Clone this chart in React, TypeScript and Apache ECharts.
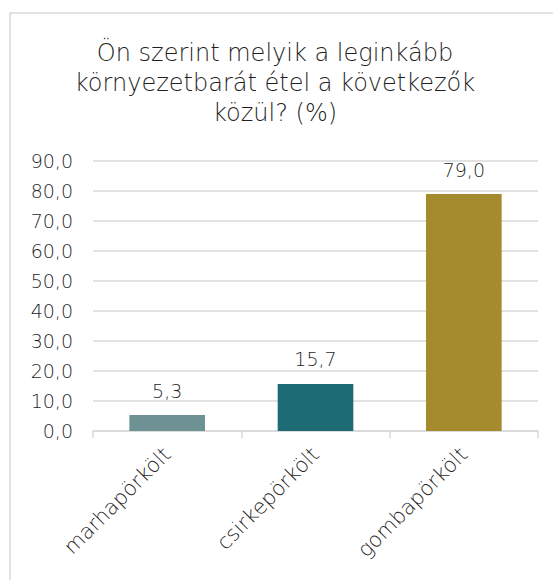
import React, { useEffect, useRef } from "react";
import * as echarts from "echarts";

const categories = ["marhapörkölt", "csirkepörkölt", "gombapörkölt"];
const values = [5.3, 15.7, 79.0];
const barColors = ["#6E9193", "#1C6B75", "#A68A2E"];
const titleText = "Ön szerint melyik a leginkább\nkörnyezetbarát étel a következők\nközül? (%)";

const FONT = "DejaVu Sans";
const TXT = "#1f1f1f";

export default function App() {
  const ref = useRef<HTMLDivElement>(null);
  useEffect(() => {
    const chart = echarts.init(ref.current!, null, { renderer: "svg" });
    chart.setOption({
      animation: false,
      backgroundColor: "#ffffff",
      graphic: [
        {
          type: "rect",
          shape: { x: 10, y: 13, width: 600, height: 600 },
          style: { fill: "none", stroke: "#d9d9d9", lineWidth: 1.5 },
          silent: true,
        },
      ],
      title: {
        text: titleText,
        left: 270,
        top: 33,
        textAlign: "center",
        textStyle: {
          fontFamily: FONT,
          fontWeight: 300,
          fontSize: 24,
          lineHeight: 30,
          color: TXT,
        },
      },
      grid: { left: 93, right: 15, top: 161, bottom: 149 },
      xAxis: {
        type: "category",
        data: categories,
        axisLine: { lineStyle: { color: "#d9d9d9", width: 1.5 } },
        axisTick: { show: true, length: 7, lineStyle: { color: "#d9d9d9", width: 1.5 } },
        axisLabel: {
          rotate: 45,
          fontFamily: FONT,
          fontWeight: 300,
          fontSize: 21,
          color: TXT,
          margin: 20,
        },
      },
      yAxis: {
        type: "value",
        min: 0,
        max: 90,
        interval: 10,
        axisLine: { show: false },
        axisTick: { show: false },
        splitLine: { lineStyle: { color: "#d9d9d9", width: 1.5 } },
        axisLabel: {
          fontFamily: FONT,
          fontWeight: 300,
          fontSize: 19,
          color: TXT,
          margin: 20,
          formatter: (v: number) => v.toFixed(1).replace(".", ","),
        },
      },
      series: [
        {
          type: "bar",
          barWidth: "51%",
          data: values.map((v, i) => ({ value: v, itemStyle: { color: barColors[i] } })),
          label: {
            show: true,
            position: "top",
            distance: 15,
            fontFamily: FONT,
            fontWeight: 300,
            fontSize: 19,
            color: TXT,
            formatter: (p: any) => Number(p.value).toFixed(1).replace(".", ","),
          },
        },
      ],
    });
    return () => chart.dispose();
  }, []);
  return <div ref={ref} style={{ width: 553, height: 580, position: "fixed", left: 0, top: 0 }} />;
}
